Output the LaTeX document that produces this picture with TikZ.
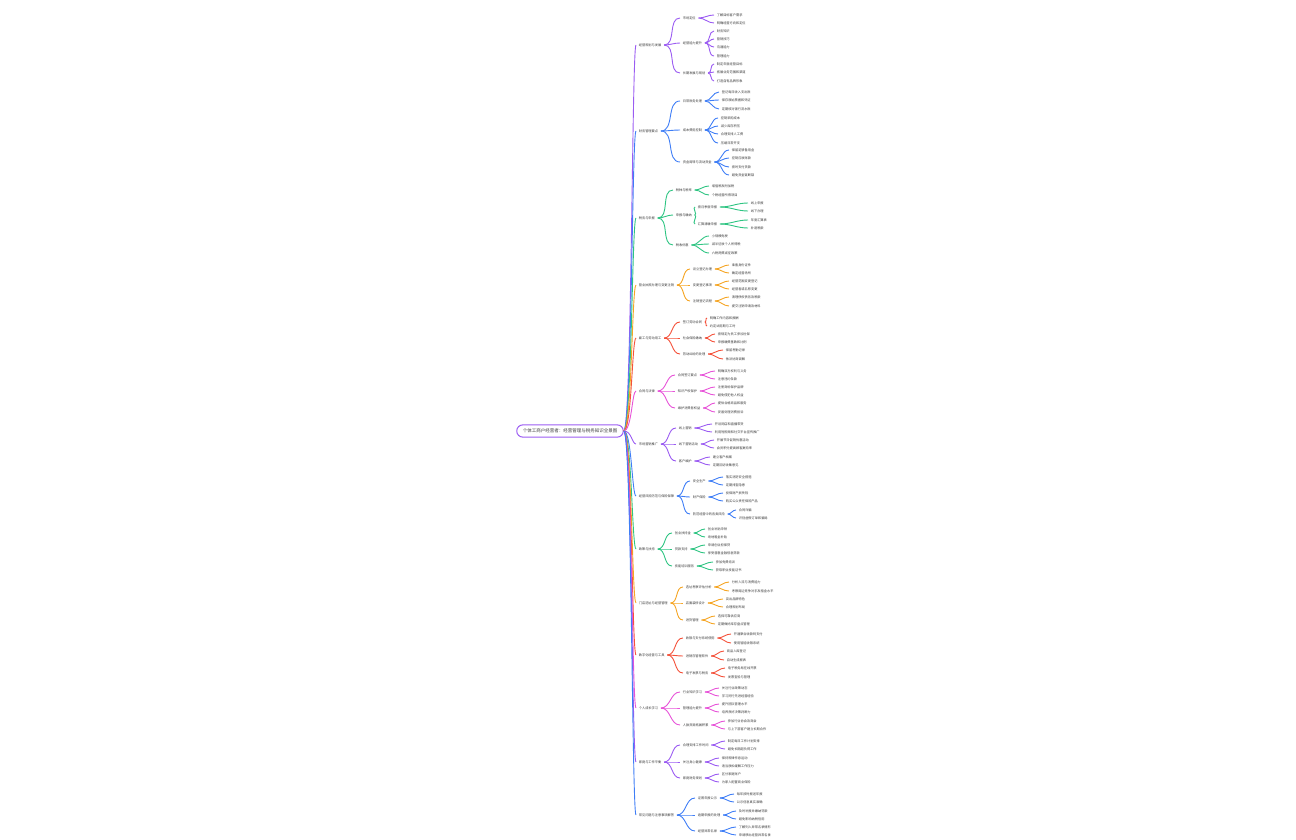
\documentclass[tikz,border=0pt]{standalone}
\usepackage{fontspec}
\setmainfont{Noto Sans CJK SC}
\usepackage{tikz}
\definecolor{cpurple}{HTML}{9B5CF2}
\definecolor{cblue}{HTML}{3F7EF6}
\definecolor{cgreen}{HTML}{2EC482}
\definecolor{corange}{HTML}{F5A524}
\definecolor{cred}{HTML}{F4523B}
\definecolor{cmagenta}{HTML}{E754D8}
\definecolor{txt}{HTML}{3A3A3A}
\tikzstyle{topic} = [anchor=west, inner xsep=1.2pt, inner ysep=0.4pt, text=txt, font=\fontsize{1.6}{2}\selectfont]
\tikzstyle{rootbox} = [draw=cpurple, line width=0.5pt, rounded corners=3pt, inner xsep=3pt, inner ysep=2pt, text=txt, font=\fontsize{2.25}{2.6}\selectfont]
\tikzstyle{trunk} = [out=0, in=180, out distance=4pt, in distance=2pt]
\tikzstyle{twig} = [out=0, in=180]

\begin{document}
\begin{tikzpicture}[x=0.5pt, y=-0.5pt, line width=0.45pt]
    \useasboundingbox (0,0) rectangle (1296,840);
    \node[rootbox] (root) at (570,431) {个体工商户经营者：经营管理与税务知识全景图};

    % branch 1
    \node[topic] (b1) at (636,45) {经营规划与发展};
    \node[topic] (b1a) at (680,18) {市场定位};
    \node[topic] (b1a1) at (714,15) {了解目标客户需求};
    \node[topic] (b1a2) at (714,23) {明确经营方向和定位};
    \node[topic] (b1b) at (680,43) {经营能力提升};
    \node[topic] (b1b1) at (714,31) {财务知识};
    \node[topic] (b1b2) at (714,39) {营销技巧};
    \node[topic] (b1b3) at (714,47) {沟通能力};
    \node[topic] (b1b4) at (714,56) {管理能力};
    \node[topic] (b1c) at (680,73) {长期发展与规划};
    \node[topic] (b1c1) at (714,64) {制定年度经营目标};
    \node[topic] (b1c2) at (714,72) {拓展业务范围和渠道};
    \node[topic] (b1c3) at (714,81) {打造自有品牌形象};
    \draw[cpurple] (root) edge[trunk] (b1);
    \draw[cpurple] (b1) edge[twig] (b1a) edge[twig] (b1b) edge[twig] (b1c);
    \draw[cpurple] (b1a) edge[twig] (b1a1) edge[twig] (b1a2);
    \draw[cpurple] (b1b) edge[twig] (b1b1) edge[twig] (b1b2) edge[twig] (b1b3) edge[twig] (b1b4);
    \draw[cpurple] (b1c) edge[twig] (b1c1) edge[twig] (b1c2) edge[twig] (b1c3);

    % branch 2
    \node[topic] (b2) at (636,131) {财务管理要点};
    \node[topic] (b2a) at (680,101) {日常账务处理};
    \node[topic] (b2a1) at (719,92) {登记每日收入支出账};
    \node[topic] (b2a2) at (719,100) {保存原始票据和凭证};
    \node[topic] (b2a3) at (719,109) {定期核对银行流水账};
    \node[topic] (b2b) at (680,130) {成本费用控制};
    \node[topic] (b2b1) at (718,118) {控制采购成本};
    \node[topic] (b2b2) at (718,126) {减少库存积压};
    \node[topic] (b2b3) at (718,134) {合理安排人工费};
    \node[topic] (b2b4) at (718,143) {压缩日常开支};
    \node[topic] (b2c) at (680,162) {资金周转与流动资金};
    \node[topic] (b2c1) at (729,150) {保留足够备用金};
    \node[topic] (b2c2) at (729,158) {控制应收账款};
    \node[topic] (b2c3) at (729,167) {按时支付货款};
    \node[topic] (b2c4) at (729,175) {避免资金链断裂};
    \draw[cblue] (root) edge[trunk] (b2);
    \draw[cblue] (b2) edge[twig] (b2a) edge[twig] (b2b) edge[twig] (b2c);
    \draw[cblue] (b2a) edge[twig] (b2a1) edge[twig] (b2a2) edge[twig] (b2a3);
    \draw[cblue] (b2b) edge[twig] (b2b1) edge[twig] (b2b2) edge[twig] (b2b3) edge[twig] (b2b4);
    \draw[cblue] (b2c) edge[twig] (b2c1) edge[twig] (b2c2) edge[twig] (b2c3) edge[twig] (b2c4);

    % branch 3
    \node[topic] (b3) at (636,218) {税务与申报};
    \node[topic] (b3a) at (673,190) {税种与税率};
    \node[topic] (b3a1) at (709,186) {增值税及附加税};
    \node[topic] (b3a2) at (709,195) {个税经营所得项目};
    \node[topic] (b3b) at (673,215) {申报与缴纳};
    \node[topic] (b3b1) at (695,207) {按月季度申报};
    \node[topic] (b3b11) at (748,203) {线上申报};
    \node[topic] (b3b12) at (748,211) {线下办理};
    \node[topic] (b3b2) at (695,224) {汇算清缴申报};
    \node[topic] (b3b21) at (748,220) {年度汇算表};
    \node[topic] (b3b22) at (748,228) {补退税款};
    \node[topic] (b3c) at (673,245) {税收优惠};
    \node[topic] (b3c1) at (709,236) {小规模免税};
    \node[topic] (b3c2) at (709,244) {减半征收个人所得税};
    \node[topic] (b3c3) at (709,253) {六税两费减征政策};
    \draw[cgreen] (root) edge[trunk] (b3);
    \draw[cgreen] (b3) edge[twig] (b3a) edge[twig] (b3b) edge[twig] (b3c);
    \draw[cgreen] (b3a) edge[twig] (b3a1) edge[twig] (b3a2);
    \draw[cgreen] (b3b) edge[twig] (b3b1) edge[twig] (b3b2);
    \draw[cgreen] (b3b1) edge[twig] (b3b11) edge[twig] (b3b12);
    \draw[cgreen] (b3b2) edge[twig] (b3b21) edge[twig] (b3b22);
    \draw[cgreen] (b3c) edge[twig] (b3c1) edge[twig] (b3c2) edge[twig] (b3c3);

    % branch 4
    \node[topic] (b4) at (636,285) {营业执照办理与变更注销};
    \node[topic] (b4a) at (690,269) {设立登记办理};
    \node[topic] (b4a1) at (729,265) {准备身份证件};
    \node[topic] (b4a2) at (729,273) {确定经营场所};
    \node[topic] (b4b) at (690,285) {变更登记事项};
    \node[topic] (b4b1) at (729,281) {经营范围变更登记};
    \node[topic] (b4b2) at (729,289) {经营者或名称变更};
    \node[topic] (b4c) at (690,301) {注销登记流程};
    \node[topic] (b4c1) at (729,297) {清理债权债务及税款};
    \node[topic] (b4c2) at (729,306) {提交注销申请及材料};
    \draw[corange] (root) edge[trunk] (b4);
    \draw[corange] (b4) edge[twig] (b4a) edge[twig] (b4b) edge[twig] (b4c);
    \draw[corange] (b4a) edge[twig] (b4a1) edge[twig] (b4a2);
    \draw[corange] (b4b) edge[twig] (b4b1) edge[twig] (b4b2);
    \draw[corange] (b4c) edge[twig] (b4c1) edge[twig] (b4c2);

    % branch 5
    \node[topic] (b5) at (636,338) {雇工与劳动用工};
    \node[topic] (b5a) at (680,322) {签订劳动合同};
    \node[topic] (b5a1) at (707,318) {明确工作内容和报酬};
    \node[topic] (b5a2) at (707,326) {约定试用期与工时};
    \node[topic] (b5b) at (680,338) {社会保险缴纳};
    \node[topic] (b5b1) at (715,334) {按规定为员工参加社保};
    \node[topic] (b5b2) at (715,342) {申报缴费基数和比例};
    \node[topic] (b5c) at (680,354) {劳动纠纷的处理};
    \node[topic] (b5c1) at (723,350) {保留考勤记录};
    \node[topic] (b5c2) at (723,359) {依法协商调解};
    \draw[cred] (root) edge[trunk] (b5);
    \draw[cred] (b5) edge[twig] (b5a) edge[twig] (b5b) edge[twig] (b5c);
    \draw[cred] (b5a) edge[twig] (b5a1) edge[twig] (b5a2);
    \draw[cred] (b5b) edge[twig] (b5b1) edge[twig] (b5b2);
    \draw[cred] (b5c) edge[twig] (b5c1) edge[twig] (b5c2);

    % branch 6
    \node[topic] (b6) at (636,391) {合同与法律};
    \node[topic] (b6a) at (675,375) {合同签订要点};
    \node[topic] (b6a1) at (715,371) {明确双方权利与义务};
    \node[topic] (b6a2) at (715,379) {注意违约条款};
    \node[topic] (b6b) at (675,391) {知识产权保护};
    \node[topic] (b6b1) at (715,387) {注册商标保护品牌};
    \node[topic] (b6b2) at (715,395) {避免侵犯他人权益};
    \node[topic] (b6c) at (675,408) {维护消费者权益};
    \node[topic] (b6c1) at (715,403) {提供合格商品和服务};
    \node[topic] (b6c2) at (715,412) {妥善处理消费投诉};
    \draw[cmagenta] (root) edge[trunk] (b6);
    \draw[cmagenta] (b6) edge[twig] (b6a) edge[twig] (b6b) edge[twig] (b6c);
    \draw[cmagenta] (b6a) edge[twig] (b6a1) edge[twig] (b6a2);
    \draw[cmagenta] (b6b) edge[twig] (b6b1) edge[twig] (b6b2);
    \draw[cmagenta] (b6c) edge[twig] (b6c1) edge[twig] (b6c2);

    % branch 7
    \node[topic] (b7) at (636,444) {市场营销推广};
    \node[topic] (b7a) at (676,428) {线上营销};
    \node[topic] (b7a1) at (712,424) {开设网店和直播带货};
    \node[topic] (b7a2) at (712,432) {利用短视频和社交平台宣传推广};
    \node[topic] (b7b) at (676,444) {线下营销活动};
    \node[topic] (b7b1) at (714,440) {开展节日促销优惠活动};
    \node[topic] (b7b2) at (714,448) {会员积分提高顾客复购率};
    \node[topic] (b7c) at (676,461) {客户维护};
    \node[topic] (b7c1) at (710,457) {建立客户档案};
    \node[topic] (b7c2) at (710,465) {定期回访收集意见};
    \draw[cpurple] (root) edge[trunk] (b7);
    \draw[cpurple] (b7) edge[twig] (b7a) edge[twig] (b7b) edge[twig] (b7c);
    \draw[cpurple] (b7a) edge[twig] (b7a1) edge[twig] (b7a2);
    \draw[cpurple] (b7b) edge[twig] (b7b1) edge[twig] (b7b2);
    \draw[cpurple] (b7c) edge[twig] (b7c1) edge[twig] (b7c2);

    % branch 8
    \node[topic] (b8) at (636,496) {经营风险防范与保险保障};
    \node[topic] (b8a) at (690,481) {安全生产};
    \node[topic] (b8a1) at (723,477) {落实消防安全措施};
    \node[topic] (b8a2) at (723,485) {定期排查隐患};
    \node[topic] (b8b) at (690,497) {财产保险};
    \node[topic] (b8b1) at (723,493) {投保财产损失险};
    \node[topic] (b8b2) at (723,501) {购买公众责任保险产品};
    \node[topic] (b8c) at (690,514) {防范经营中的各类风险};
    \node[topic] (b8c1) at (736,510) {合同诈骗};
    \node[topic] (b8c2) at (736,518) {识别虚假订单和骗局};
    \draw[cblue] (root) edge[trunk] (b8);
    \draw[cblue] (b8) edge[twig] (b8a) edge[twig] (b8b) edge[twig] (b8c);
    \draw[cblue] (b8a) edge[twig] (b8a1) edge[twig] (b8a2);
    \draw[cblue] (b8b) edge[twig] (b8b1) edge[twig] (b8b2);
    \draw[cblue] (b8c) edge[twig] (b8c1) edge[twig] (b8c2);

    % branch 9
    \node[topic] (b9) at (636,549) {政策与扶持};
    \node[topic] (b9a) at (672,533) {创业扶持金};
    \node[topic] (b9a1) at (705,529) {创业补贴申领};
    \node[topic] (b9a2) at (705,537) {场地租金补贴};
    \node[topic] (b9b) at (672,549) {贷款支持};
    \node[topic] (b9b1) at (705,545) {申请创业担保贷};
    \node[topic] (b9b2) at (705,553) {享受普惠金融低息贷款};
    \node[topic] (b9c) at (672,566) {技能培训服务};
    \node[topic] (b9c1) at (713,562) {参加免费培训};
    \node[topic] (b9c2) at (713,570) {获取职业技能证书};
    \draw[cgreen] (root) edge[trunk] (b9);
    \draw[cgreen] (b9) edge[twig] (b9a) edge[twig] (b9b) edge[twig] (b9c);
    \draw[cgreen] (b9a) edge[twig] (b9a1) edge[twig] (b9a2);
    \draw[cgreen] (b9b) edge[twig] (b9b1) edge[twig] (b9b2);
    \draw[cgreen] (b9c) edge[twig] (b9c1) edge[twig] (b9c2);

    % branch 10
    \node[topic] (b10) at (636,603) {门店选址与经营管理};
    \node[topic] (b10a) at (683,587) {选址考察评估分析};
    \node[topic] (b10a1) at (729,582) {分析人流与消费能力};
    \node[topic] (b10a2) at (729,591) {考察周边竞争对手及租金水平};
    \node[topic] (b10b) at (683,603) {店面装修设计};
    \node[topic] (b10b1) at (723,599) {突出品牌特色};
    \node[topic] (b10b2) at (723,607) {合理规划布局};
    \node[topic] (b10c) at (683,620) {进货管理};
    \node[topic] (b10c1) at (715,616) {选择可靠供应商};
    \node[topic] (b10c2) at (715,624) {定期做好库存盘点管理};
    \draw[corange] (root) edge[trunk] (b10);
    \draw[corange] (b10) edge[twig] (b10a) edge[twig] (b10b) edge[twig] (b10c);
    \draw[corange] (b10a) edge[twig] (b10a1) edge[twig] (b10a2);
    \draw[corange] (b10b) edge[twig] (b10b1) edge[twig] (b10b2);
    \draw[corange] (b10c) edge[twig] (b10c1) edge[twig] (b10c2);

    % branch 11
    \node[topic] (b11) at (636,655) {数字化经营与工具};
    \node[topic] (b11a) at (683,638) {收银与支付系统使用};
    \node[topic] (b11a1) at (731,634) {开通聚合收款码支付};
    \node[topic] (b11a2) at (731,643) {使用智能收银系统};
    \node[topic] (b11b) at (683,656) {进销存管理软件};
    \node[topic] (b11b1) at (724,651) {商品入库登记};
    \node[topic] (b11b2) at (724,660) {自动生成报表};
    \node[topic] (b11c) at (683,673) {电子发票与税务};
    \node[topic] (b11c1) at (725,668) {电子税务局在线开票};
    \node[topic] (b11c2) at (725,677) {发票查验与管理};
    \draw[cred] (root) edge[trunk] (b11);
    \draw[cred] (b11) edge[twig] (b11a) edge[twig] (b11b) edge[twig] (b11c);
    \draw[cred] (b11a) edge[twig] (b11a1) edge[twig] (b11a2);
    \draw[cred] (b11b) edge[twig] (b11b1) edge[twig] (b11b2);
    \draw[cred] (b11c) edge[twig] (b11c1) edge[twig] (b11c2);

    % branch 12
    \node[topic] (b12) at (636,708) {个人成长学习};
    \node[topic] (b12a) at (680,692) {行业知识学习};
    \node[topic] (b12a1) at (719,688) {关注行业政策动态};
    \node[topic] (b12a2) at (719,696) {学习同行先进经营经验};
    \node[topic] (b12b) at (680,708) {管理能力提升};
    \node[topic] (b12b1) at (719,704) {提升团队管理水平};
    \node[topic] (b12b2) at (719,712) {培养良好决策判断力};
    \node[topic] (b12c) at (680,725) {人脉资源拓展积累};
    \node[topic] (b12c1) at (725,721) {参加行业协会及商会};
    \node[topic] (b12c2) at (725,729) {与上下游客户建立长期合作};
    \draw[cmagenta] (root) edge[trunk] (b12);
    \draw[cmagenta] (b12) edge[twig] (b12a) edge[twig] (b12b) edge[twig] (b12c);
    \draw[cmagenta] (b12a) edge[twig] (b12a1) edge[twig] (b12a2);
    \draw[cmagenta] (b12b) edge[twig] (b12b1) edge[twig] (b12b2);
    \draw[cmagenta] (b12c) edge[twig] (b12c1) edge[twig] (b12c2);

    % branch 13
    \node[topic] (b13) at (636,762) {家庭与工作平衡};
    \node[topic] (b13a) at (680,745) {合理安排工作时间};
    \node[topic] (b13a1) at (725,741) {制定每日工作计划安排};
    \node[topic] (b13a2) at (725,749) {避免长期超负荷工作};
    \node[topic] (b13b) at (680,762) {关注身心健康};
    \node[topic] (b13b1) at (719,758) {保持规律作息运动};
    \node[topic] (b13b2) at (719,766) {适当放松缓解工作压力};
    \node[topic] (b13c) at (680,778) {家庭财务规划};
    \node[topic] (b13c1) at (719,774) {区分家庭账户};
    \node[topic] (b13c2) at (719,782) {为家人配置商业保险};
    \draw[cpurple] (root) edge[trunk] (b13);
    \draw[cpurple] (b13) edge[twig] (b13a) edge[twig] (b13b) edge[twig] (b13c);
    \draw[cpurple] (b13a) edge[twig] (b13a1) edge[twig] (b13a2);
    \draw[cpurple] (b13b) edge[twig] (b13b1) edge[twig] (b13b2);
    \draw[cpurple] (b13c) edge[twig] (b13c1) edge[twig] (b13c2);

    % branch 14
    \node[topic] (b14) at (636,815) {常见问题与注意事项解答};
    \node[topic] (b14a) at (695,798) {证照年报公示};
    \node[topic] (b14a1) at (734,794) {每年按时报送年报};
    \node[topic] (b14a2) at (734,802) {公示信息真实准确};
    \node[topic] (b14b) at (695,815) {逾期申报的处理};
    \node[topic] (b14b1) at (736,811) {及时补报并缴纳罚款};
    \node[topic] (b14b2) at (736,819) {避免影响纳税信用};
    \node[topic] (b14c) at (695,831) {经营异常名录};
    \node[topic] (b14c1) at (736,827) {了解列入异常名录情形};
    \node[topic] (b14c2) at (736,835) {申请移出经营异常名录};
    \draw[cblue] (root) edge[trunk] (b14);
    \draw[cblue] (b14) edge[twig] (b14a) edge[twig] (b14b) edge[twig] (b14c);
    \draw[cblue] (b14a) edge[twig] (b14a1) edge[twig] (b14a2);
    \draw[cblue] (b14b) edge[twig] (b14b1) edge[twig] (b14b2);
    \draw[cblue] (b14c) edge[twig] (b14c1) edge[twig] (b14c2);
\end{tikzpicture}
\end{document}
